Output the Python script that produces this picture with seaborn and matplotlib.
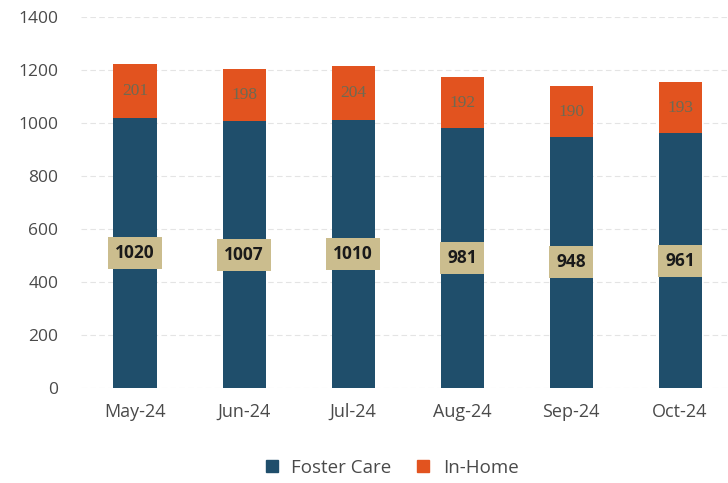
import matplotlib
matplotlib.use("Agg")
import matplotlib.pyplot as plt
from matplotlib.lines import Line2D
import seaborn as sns
import pandas as pd

months = ["May-24", "Jun-24", "Jul-24", "Aug-24", "Sep-24", "Oct-24"]
foster_care = [1020, 1007, 1010, 981, 948, 961]
in_home = [201, 198, 204, 192, 190, 193]

FOSTER = "#1f4e6b"
INHOME = "#e2531f"

sns.set_theme(style="white")
plt.rcParams["font.family"] = ["Open Sans", "DejaVu Sans"]

df = pd.DataFrame({"month": months, "foster": foster_care, "inhome": in_home})
df["total"] = df["foster"] + df["inhome"]

fig = plt.figure(figsize=(7.28, 4.83), dpi=100)
ax = fig.add_axes([0.1106, 0.1967, 0.891, 0.7681])

# stacked look: total in orange, foster care drawn over it
sns.barplot(data=df, x="month", y="total", color=INHOME, width=0.395,
            saturation=1, linewidth=0, ax=ax, zorder=2)
sns.barplot(data=df, x="month", y="foster", color=FOSTER, width=0.395,
            saturation=1, linewidth=0, ax=ax, zorder=3)

ax.set_ylim(0, 1400)
ax.set_yticks(range(0, 1401, 200))
ax.set_xlim(-0.5, 5.45)
ax.set_xlabel("")
ax.set_ylabel("")
ax.yaxis.grid(True, color="#e4e4e4", linewidth=0.8, linestyle=(0, (5, 3)))
ax.set_axisbelow(True)
for s in ax.spines.values():
    s.set_visible(False)
ax.tick_params(axis="y", length=0, labelsize=12.5, colors="#4a4a4a", pad=16)
ax.tick_params(axis="x", length=0, labelsize=13, colors="#4a4a4a", pad=11)

for i, (f, h) in enumerate(zip(foster_care, in_home)):
    ax.text(i, f / 2, str(f), ha="center", va="center", fontsize=12.5,
            fontweight="bold", color="#1a1a1a", zorder=5,
            bbox=dict(boxstyle="square,pad=0.4", facecolor="#cbbd8e",
                      edgecolor="none"))
    ax.text(i, f + h / 2, str(h), ha="center", va="center", fontsize=12.5,
            family=["Liberation Serif", "DejaVu Serif"], color="#6e6a52",
            zorder=5)

handles = [
    Line2D([], [], marker="s", linestyle="none", markersize=8,
           markerfacecolor=FOSTER, markeredgecolor=FOSTER, label="Foster Care"),
    Line2D([], [], marker="s", linestyle="none", markersize=8,
           markerfacecolor=INHOME, markeredgecolor=INHOME, label="In-Home"),
]
fig.legend(handles=handles, loc="center", bbox_to_anchor=(0.53, 0.031),
           ncol=2, frameon=False, fontsize=13.5, handletextpad=0.05,
           columnspacing=0.7, labelcolor="#4a4a4a")

fig.savefig("out.png", dpi=100)
